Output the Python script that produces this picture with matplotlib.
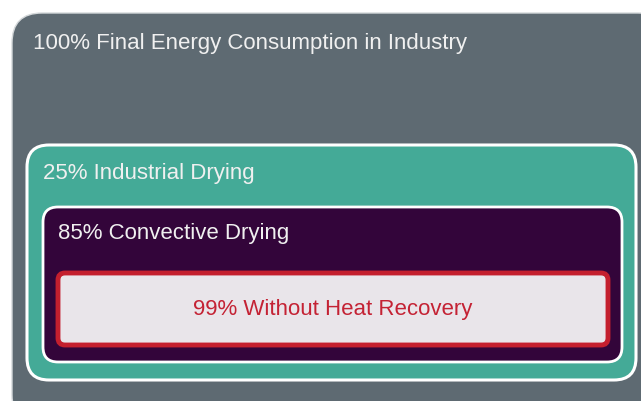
import matplotlib
matplotlib.use("Agg")
import matplotlib.pyplot as plt
from matplotlib.patches import FancyBboxPatch

plt.rcParams['font.family'] = ['Liberation Sans', 'DejaVu Sans']

# data
percentages = [100, 25, 85, 99]
labels = ["Final Energy Consumption in Industry", "Industrial Drying",
          "Convective Drying", "Without Heat Recovery"]

W, H = 641, 401
fig = plt.figure(figsize=(W / 100, H / 100), dpi=100)
ax = fig.add_axes([0, 0, 1, 1])
ax.set_xlim(0, W)
ax.set_ylim(H, 0)
ax.axis('off')

# box geometry: (x0, y0, x1, y1, radius)
boxes = [
    (12, 13, 668, 425, 30),
    (27, 145, 636, 380, 22),
    (43, 207, 622, 362, 15),
    (58, 273, 608, 345, 7),
]
fills = ['#5e6a72', '#44aa97', '#33053a', '#e9e5ea']
edges = ['#d5d9db', '#ffffff', '#ffffff', '#c41f2e']
lws = [1.0, 2.2, 2.0, 3.5]
text_colors = ['#f0f0f0', '#f0f0f0', '#f0f0f0', '#c42234']
text_pos = [(33, 43, 'left'), (43, 174, 'left'), (58, 233, 'left'), (333, 309, 'center')]

for (x0, y0, x1, y1, r), fc, ec, lw in zip(boxes, fills, edges, lws):
    p = FancyBboxPatch((x0, y0), x1 - x0, y1 - y0,
                       boxstyle=f"round,pad=0,rounding_size={r}",
                       facecolor=fc, edgecolor=ec, linewidth=lw)
    ax.add_patch(p)

for pct, lab, tc, (tx, ty, ha) in zip(percentages, labels, text_colors, text_pos):
    ax.text(tx, ty, f"{pct}% {lab}", color=tc, fontsize=16, ha=ha, va='center')

fig.savefig("out.png", dpi=100)
